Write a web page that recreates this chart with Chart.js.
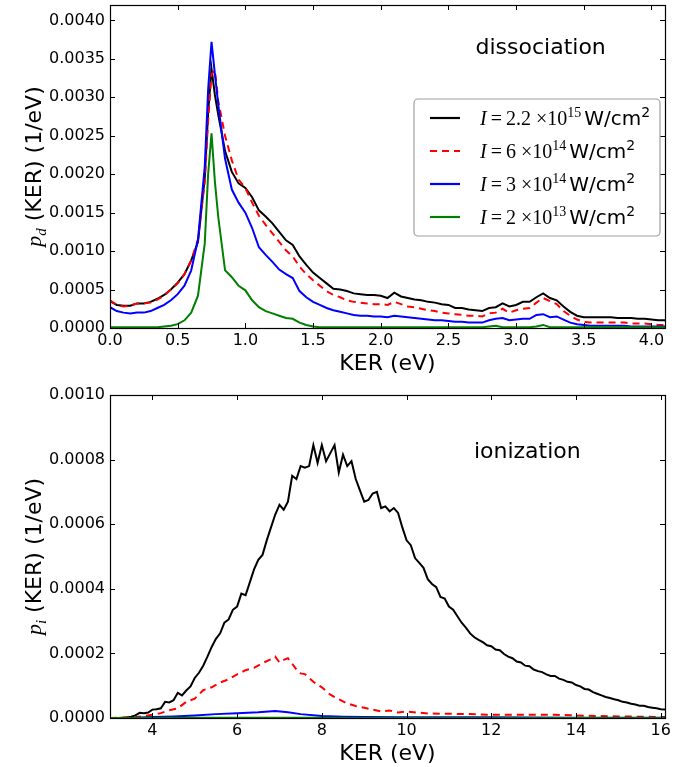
<!DOCTYPE html>
<html><head><meta charset="utf-8">
<script src="https://cdn.jsdelivr.net/npm/chart.js@4.4.1/dist/chart.umd.min.js"></script>
<style>
html,body{margin:0;padding:0;background:#fff;}
#wrap{width:690px;height:767px;position:relative;overflow:hidden;}
.box{position:absolute;left:0;width:690px;}
canvas{display:block;}
</style></head><body>
<div id="wrap">
<div class="box" style="top:0;height:383px"><canvas id="c1" width="690" height="383"></canvas></div>
<div class="box" style="top:383px;height:384px"><canvas id="c2" width="690" height="384"></canvas></div>
</div>
<script>
// ---------- Data: dissociation (top) ----------
const xTop = [0,0.05,0.1,0.15,0.2,0.25,0.3,0.35,0.4,0.45,0.5,0.55,0.6,0.65,0.7,0.725,0.75,0.775,0.8,0.85,0.9,0.95,1.0,1.05,1.1,1.15,1.2,1.25,1.3,1.35,1.4,1.45,1.5,1.55,1.6,1.65,1.7,1.75,1.8,1.85,1.9,1.95,2.0,2.05,2.1,2.15,2.2,2.25,2.3,2.35,2.4,2.45,2.5,2.55,2.6,2.65,2.7,2.75,2.8,2.85,2.9,2.95,3.0,3.05,3.1,3.15,3.2,3.25,3.3,3.35,3.4,3.45,3.5,3.55,3.6,3.65,3.7,3.75,3.8,3.85,3.9,3.95,4.0,4.05,4.1];
const dissBlack = [0.00035,0.0003,0.00029,0.00029,0.00032,0.00032,0.00034,0.00038,0.00043,0.0005,0.00059,0.0007,0.00088,0.00112,0.00195,0.0028,0.00337,0.00303,0.00277,0.0023,0.00203,0.00188,0.00182,0.0017,0.00153,0.00145,0.00136,0.00125,0.00114,0.00108,0.00093,0.00082,0.00072,0.00065,0.00058,0.00051,0.0005,0.00048,0.00045,0.00044,0.00043,0.00043,0.00042,0.00039,0.00046,0.00041,0.00039,0.00037,0.00036,0.00034,0.00033,0.00031,0.0003,0.00026,0.00026,0.00024,0.00023,0.00022,0.00026,0.00027,0.00032,0.00028,0.0003,0.00034,0.00034,0.0004,0.00045,0.00039,0.00036,0.00028,0.00021,0.00016,0.00014,0.00014,0.00014,0.00014,0.00014,0.00013,0.00013,0.00013,0.00012,0.00012,0.00011,0.0001,0.0001];
const dissRed = [0.00036,0.0003,0.00028,0.00029,0.00032,0.00032,0.00033,0.00037,0.00042,0.0005,0.00058,0.0007,0.00088,0.00115,0.0019,0.0027,0.0033,0.00335,0.00295,0.0025,0.00218,0.00193,0.00182,0.00163,0.00146,0.00134,0.00123,0.00112,0.00101,0.00093,0.0008,0.0007,0.00062,0.00055,0.00048,0.00043,0.0004,0.00036,0.00034,0.00033,0.00032,0.00031,0.00031,0.0003,0.00034,0.00031,0.00028,0.00027,0.00025,0.00023,0.00022,0.0002,0.00019,0.00018,0.00017,0.00016,0.00016,0.00015,0.00019,0.0002,0.00025,0.0002,0.00023,0.00025,0.00026,0.00033,0.00039,0.00035,0.00031,0.00022,0.00016,0.00011,0.00008,0.00007,0.00007,0.00007,0.00007,0.00007,0.00007,0.00006,0.00006,0.00006,0.00005,0.00004,0.00004];
const dissBlue = [0.00027,0.00022,0.0002,0.00019,0.0002,0.0002,0.00022,0.00026,0.0003,0.00036,0.00044,0.00055,0.00075,0.00115,0.0021,0.0031,0.00372,0.0033,0.0029,0.0022,0.0018,0.00163,0.0015,0.0013,0.00105,0.00095,0.00086,0.00076,0.0007,0.00065,0.00048,0.0004,0.00034,0.0003,0.00026,0.00023,0.00021,0.00019,0.00017,0.00016,0.00016,0.00015,0.00015,0.00014,0.00016,0.00015,0.00014,0.00013,0.00012,0.00011,0.0001,0.0001,0.00009,0.00008,0.00008,0.00007,0.00007,0.00007,0.0001,0.00012,0.00013,0.0001,0.00011,0.00012,0.00012,0.00017,0.00018,0.00014,0.00015,0.00011,0.00007,0.00005,0.00004,0.00003,0.00003,0.00003,0.00003,0.00003,0.00003,0.00002,0.00002,0.00002,0.00002,0.00002,0.00002];
const dissGreen = [0.00001,0.00001,0.00001,0.00001,0.00001,0.00001,0.00001,0.00001,0.00002,0.00003,0.00005,0.0001,0.0002,0.00042,0.0011,0.002,0.00253,0.0019,0.00144,0.00075,0.00066,0.00055,0.00049,0.00036,0.00027,0.00022,0.00019,0.00016,0.00013,0.00012,0.00007,0.00004,0.00002,0.00001,0.00001,0.00001,0.00001,0.00001,0.00001,0.00001,0.00001,0.00001,0.00001,0.00001,0.00001,0.00001,0.00001,0.00001,0.00001,0.00001,0.00001,0.00001,0.00001,0.00001,0.00001,0.00001,0.00001,0.00001,0.00002,0.00003,0.00001,0.00001,0.00001,0.00001,0.00001,0.00002,0.00004,0.00001,0.00001,0.00001,0.00001,0.00001,0.00001,0.00001,0.00001,0.00001,0.00001,0.00001,0.00001,0.00001,0.00001,0.00001,0.00001,0.00001,0.00001];

// ---------- Data: ionization (bottom) ----------
const xIonBlack = [3.0,3.1,3.2,3.3,3.4,3.5,3.6,3.7,3.8,3.9,4.0,4.1,4.2,4.3,4.4,4.5,4.6,4.7,4.8,4.9,5.0,5.1,5.2,5.3,5.4,5.5,5.6,5.7,5.8,5.9,6.0,6.1,6.2,6.3,6.4,6.5,6.6,6.7,6.8,6.9,7.0,7.1,7.2,7.3,7.4,7.5,7.6,7.7,7.8,7.9,8.0,8.1,8.2,8.3,8.4,8.5,8.6,8.7,8.8,8.9,9.0,9.1,9.2,9.3,9.4,9.5,9.6,9.7,9.8,9.9,10.0,10.1,10.2,10.3,10.4,10.5,10.6,10.7,10.8,10.9,11.0,11.1,11.2,11.3,11.4,11.5,11.6,11.7,11.8,11.9,12.0,12.1,12.2,12.3,12.4,12.5,12.6,12.7,12.8,12.9,13.0,13.1,13.2,13.3,13.4,13.5,13.6,13.7,13.8,13.9,14.0,14.1,14.2,14.3,14.4,14.5,14.6,14.7,14.8,14.9,15.0,15.1,15.2,15.3,15.4,15.5,15.6,15.7,15.8,15.9,16.0,16.1];
const ionBlack = [0,0,0,0.000001,0.000002,0.000004,0.000008,0.000016,0.000015,0.000017,0.000026,0.000027,0.00003,0.00005,0.000048,0.000055,0.000078,0.00007,0.000085,0.000098,0.000124,0.00014,0.000162,0.00019,0.00022,0.000245,0.000262,0.000295,0.000305,0.000335,0.000345,0.000385,0.00038,0.00042,0.00046,0.00049,0.000505,0.00055,0.00059,0.00063,0.00066,0.000645,0.00067,0.00075,0.00074,0.00078,0.000775,0.00078,0.000845,0.00079,0.000845,0.000795,0.00082,0.000845,0.00076,0.000815,0.00078,0.000795,0.00074,0.000705,0.00067,0.000675,0.000695,0.0007,0.00065,0.000655,0.00064,0.00065,0.000635,0.00059,0.00055,0.000535,0.000495,0.00048,0.000465,0.00043,0.000415,0.000405,0.000375,0.00037,0.000345,0.000335,0.000315,0.000295,0.00028,0.000262,0.00025,0.000242,0.000235,0.000225,0.000222,0.000212,0.00021,0.000198,0.00019,0.000185,0.000175,0.000172,0.000162,0.00016,0.00015,0.000145,0.000142,0.000135,0.00013,0.00013,0.000122,0.000118,0.000112,0.00011,0.000102,0.000098,0.00009,0.000088,0.00008,0.000075,0.00007,0.000065,0.000062,0.000058,0.000055,0.00005,0.000048,0.000044,0.000042,0.000038,0.000038,0.000034,0.000032,0.00003,0.000027,0.000026];
const xIonRed = [3.0,3.6,3.8,4.0,4.2,4.4,4.6,4.8,5.0,5.2,5.4,5.6,5.8,6.0,6.2,6.4,6.6,6.8,6.9,7.0,7.1,7.2,7.3,7.4,7.5,7.6,7.8,8.0,8.2,8.4,8.6,8.8,9.0,9.2,9.4,9.6,9.8,10.0,10.5,11.0,11.5,12.0,12.5,13.0,13.5,14.0,14.5,15.0,15.5,16.0,16.1];
const ionRed = [0,0.000002,0.000006,0.00001,0.000015,0.000024,0.00003,0.00005,0.00006,0.000086,0.000095,0.00011,0.00012,0.000135,0.000148,0.000155,0.00017,0.000182,0.00019,0.000172,0.00018,0.000185,0.000168,0.00015,0.000138,0.000136,0.000112,0.000095,0.000072,0.000058,0.000045,0.000037,0.000032,0.000026,0.00002,0.000023,0.000017,0.00002,0.000014,0.000013,0.000012,0.00001,0.00001,0.00001,0.00001,0.000008,0.000006,0.000005,0.000004,0.000003,0.000003];
const xIonBlue = [3.0,3.6,4.0,4.5,5.0,5.5,6.0,6.5,6.9,7.2,7.5,8.0,8.5,9.0,10.0,12.0,14.0,16.1];
const ionBlue = [0,0.000001,0.000003,0.000005,0.000008,0.000012,0.000015,0.000018,0.000022,0.000018,0.000012,0.000006,0.000004,0.000003,0.000002,0.000002,0.000001,0.000001];
const xIonGreen = [3.0,5.0,6.0,7.0,8.0,9.0,16.1];
const ionGreen = [0,0.0000005,0.000001,0.000001,0.0000005,0,0];

// ---------- Labels ----------
const seriesNames = ['I = 2.2 ×10¹⁵ W/cm²','I = 6 ×10¹⁴ W/cm²','I = 3 ×10¹⁴ W/cm²','I = 2 ×10¹³ W/cm²'];
const legendCoef = ['2.2','6','3','2'];
const legendExp = ['15','14','14','13'];
const seriesColors = ['#000000','#ff0000','#0000ff','#008000'];
const topXTicksStep = 0.5, topYTicksStep = 0.0005;
const botXTicksStep = 2, botYTicksStep = 0.0002;

Chart.defaults.font.family = '"DejaVu Sans"';
Chart.defaults.color = '#000';

function pts(xs, ys){ return xs.map((x,i)=>({x:x, y:ys[i]})); }

const framePlugin = {
  id: 'frameTicks',
  afterDatasetsDraw(chart) {
    const {ctx, chartArea: a, scales} = chart;
    ctx.save();
    ctx.strokeStyle = '#000'; ctx.lineWidth = 1;
    const L = 5;
    ctx.beginPath();
    scales.x.ticks.forEach(t => {
      const px = Math.round(scales.x.getPixelForValue(t.value)) + 0.5;
      ctx.moveTo(px, a.bottom); ctx.lineTo(px, a.bottom - L);
      ctx.moveTo(px, a.top); ctx.lineTo(px, a.top + L);
    });
    scales.y.ticks.forEach(t => {
      const py = Math.round(scales.y.getPixelForValue(t.value)) + 0.5;
      ctx.moveTo(a.left, py); ctx.lineTo(a.left + L, py);
      ctx.moveTo(a.right, py); ctx.lineTo(a.right - L, py);
    });
    ctx.stroke();
    ctx.lineWidth = 1.2;
    ctx.strokeRect(Math.round(a.left)+0.5, Math.round(a.top)+0.5, Math.round(a.right-a.left), Math.round(a.bottom-a.top));
    ctx.restore();
  }
};

const yTitlePlugin = {
  id: 'yMathTitle',
  afterDraw(chart, args, o) {
    const {ctx, chartArea: a} = chart;
    ctx.save();
    ctx.translate(o.x, (a.top + a.bottom)/2 + (o.dy||0));
    ctx.rotate(-Math.PI/2);
    ctx.fillStyle = '#000';
    ctx.textBaseline = 'alphabetic';
    const fMain = `italic ${o.size}px "Liberation Serif"`;
    const fSub = `italic ${Math.round(o.size*0.7)}px "Liberation Serif"`;
    const fText = `${o.size}px "DejaVu Sans"`;
    ctx.font = fMain; const w1 = ctx.measureText(o.sym).width;
    ctx.font = fSub; const w2 = ctx.measureText(o.sub).width;
    ctx.font = fText; const w3 = ctx.measureText(o.rest).width;
    let x = -(w1+w2+w3)/2;
    const base = o.size*0.36;
    ctx.font = fMain; ctx.fillText(o.sym, x, base); x += w1;
    ctx.font = fSub; ctx.fillText(o.sub, x, base + o.size*0.22); x += w2;
    ctx.font = fText; ctx.fillText(o.rest, x, base);
    ctx.restore();
  }
};

const notePlugin = {
  id: 'noteText',
  afterDraw(chart, args, o) {
    const {ctx, scales} = chart;
    ctx.save();
    ctx.font = `${o.size}px "DejaVu Sans"`;
    ctx.fillStyle = '#000';
    ctx.textBaseline = 'middle';
    ctx.textAlign = 'left';
    ctx.fillText(o.text, scales.x.getPixelForValue(o.x), scales.y.getPixelForValue(o.y));
    ctx.restore();
  }
};

const mathLegendPlugin = {
  id: 'mathLegend',
  afterDraw(chart, args, o) {
    if (!o.show) return;
    const {ctx, chartArea: a} = chart;
    const bx = a.right - o.right - o.width, by = a.top + o.top;
    ctx.save();
    ctx.beginPath();
    const r = 4, w = o.width, h = o.height;
    ctx.moveTo(bx + r, by);
    ctx.arcTo(bx + w, by, bx + w, by + h, r);
    ctx.arcTo(bx + w, by + h, bx, by + h, r);
    ctx.arcTo(bx, by + h, bx, by, r);
    ctx.arcTo(bx, by, bx + w, by, r);
    ctx.closePath();
    ctx.fillStyle = '#fff'; ctx.fill();
    ctx.strokeStyle = '#a0a0a0'; ctx.lineWidth = 1.2; ctx.stroke();
    const s = o.size, ss = Math.round(s*0.68);
    chart.data.datasets.forEach((ds, i) => {
      const cy = by + o.firstRow + i*o.rowGap;
      ctx.beginPath();
      ctx.strokeStyle = ds.borderColor; ctx.lineWidth = 2.2;
      ctx.setLineDash(ds.borderDash || []);
      ctx.moveTo(bx + 16, cy); ctx.lineTo(bx + 46, cy); ctx.stroke();
      ctx.setLineDash([]);
      ctx.fillStyle = '#000';
      ctx.textBaseline = 'alphabetic';
      const base = cy + s*0.35;
      let x = bx + 66;
      const draw = (font, txt, dy) => { ctx.font = font; ctx.fillText(txt, x, base + (dy||0)); x += ctx.measureText(txt).width; };
      draw(`italic ${s}px "Liberation Serif"`, 'I');
      draw(`${s}px "Liberation Serif"`, '\u2009=\u2009');
      draw(`${s}px "Liberation Serif"`, legendCoef[i] + ' ');
      draw(`${s}px "Liberation Serif"`, '×10');
      draw(`${ss}px "Liberation Serif"`, legendExp[i], -s*0.38);
      x += 3;
      draw(`${s}px "DejaVu Sans"`, 'W/cm');
      draw(`${ss}px "DejaVu Sans"`, '2', -s*0.38);
    });
    ctx.restore();
  }
};

function fitY(w){ return function(s){ s.width = w; s.paddingTop = 0; s.paddingBottom = 0; s.paddingLeft = 0; s.paddingRight = 0; }; }
function fitX(h){ return function(s){ s.height = h; s.paddingTop = 0; s.paddingBottom = 0; s.paddingLeft = 0; s.paddingRight = 0; }; }

function makeDatasets(sets){
  return sets.map((d,i)=>({
    label: seriesNames[i],
    data: d,
    borderColor: seriesColors[i],
    backgroundColor: seriesColors[i],
    borderWidth: 2,
    borderDash: i===1 ? [7,5] : [],
    pointRadius: 0,
    tension: 0,
    fill: false,
    order: 4 - i
  }));
}

const gridOff = { display: false, drawTicks: false, tickLength: 0 };

new Chart(document.getElementById('c1'), {
  type: 'line',
  data: { datasets: makeDatasets([pts(xTop,dissBlack), pts(xTop,dissRed), pts(xTop,dissBlue), pts(xTop,dissGreen)]) },
  options: {
    responsive: false, animation: false,
    layout: { padding: { top: 5, right: 25, left: 0, bottom: 0 } },
    plugins: {
      legend: { display: false }, tooltip: { enabled: false },
      yMathTitle: { x: 33, size: 22, sym: 'p', sub: 'd', rest: ' (KER) (1/eV)' },
      noteText: { text: 'dissociation', x: 2.7, y: 0.00364, size: 22 },
      mathLegend: { show: true, right: 5, top: 94, width: 246, height: 137, firstRow: 19, rowGap: 33, size: 20 }
    },
    scales: {
      x: { type: 'linear', min: 0, max: 4.1,
        grid: gridOff, border: { display: false },
        ticks: { stepSize: topXTicksStep, includeBounds: false, padding: 3, maxRotation: 0, font: { size: 16 },
          callback: v => v.toFixed(1) },
        title: { display: true, text: 'KER (eV)', font: { size: 22 }, padding: { top: 0, bottom: 6 } },
        afterFit: fitX(55) },
      y: { type: 'linear', min: 0, max: 0.0042,
        grid: gridOff, border: { display: false },
        ticks: { stepSize: topYTicksStep, includeBounds: false, padding: 5, font: { size: 16 },
          callback: v => v.toFixed(4) },
        afterFit: fitY(110) }
    }
  },
  plugins: [framePlugin, yTitlePlugin, notePlugin, mathLegendPlugin]
});

new Chart(document.getElementById('c2'), {
  type: 'line',
  data: { datasets: makeDatasets([pts(xIonBlack,ionBlack), pts(xIonRed,ionRed), pts(xIonBlue,ionBlue), pts(xIonGreen,ionGreen)]) },
  options: {
    responsive: false, animation: false,
    layout: { padding: { top: 12, right: 25, left: 0, bottom: 0 } },
    plugins: {
      legend: { display: false }, tooltip: { enabled: false },
      yMathTitle: { x: 33, size: 22, sym: 'p', sub: 'i', rest: ' (KER) (1/eV)' },
      noteText: { text: 'ionization', x: 11.59, y: 0.000823, size: 22 },
      mathLegend: { show: false }
    },
    scales: {
      x: { type: 'linear', min: 3, max: 16.1,
        grid: gridOff, border: { display: false },
        ticks: { stepSize: botXTicksStep, includeBounds: false, padding: 3, maxRotation: 0, font: { size: 16 },
          callback: v => String(v) },
        title: { display: true, text: 'KER (eV)', font: { size: 22 }, padding: { top: 0, bottom: 0 } },
        afterFit: fitX(49) },
      y: { type: 'linear', min: 0, max: 0.001,
        grid: gridOff, border: { display: false },
        ticks: { stepSize: botYTicksStep, includeBounds: false, padding: 5, font: { size: 16 },
          callback: v => v.toFixed(4) },
        afterFit: fitY(110) }
    }
  },
  plugins: [framePlugin, yTitlePlugin, notePlugin, mathLegendPlugin]
});
</script>
</body></html>
